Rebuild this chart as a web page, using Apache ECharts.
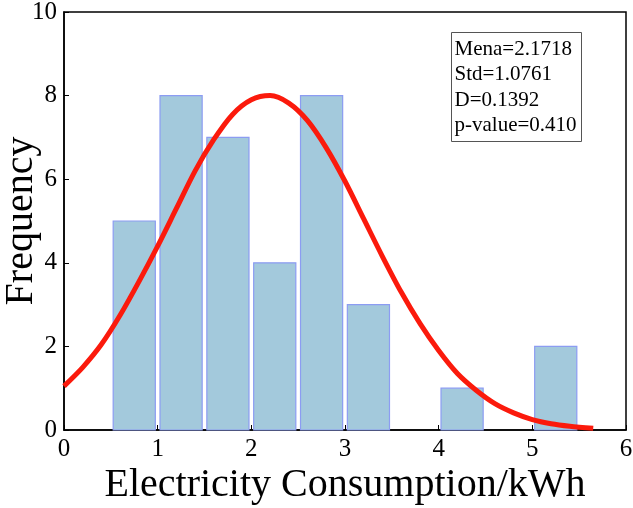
<!DOCTYPE html>
<html>
<head>
<meta charset="utf-8">
<script src="https://cdn.jsdelivr.net/npm/echarts@6/dist/echarts.min.js"></script>
<style>html,body{margin:0;padding:0;background:#fff}#main{width:633px;height:508px}</style>
</head>
<body>
<div id="main"></div>
<script>
// histogram bins (centres) and counts
var binCenters = [0.75, 1.25, 1.75, 2.25, 2.75, 3.25, 3.75, 4.25, 4.75, 5.25];
var counts = [5, 8, 7, 4, 8, 3, 0, 1, 0, 2];
// fitted curve
var curveX = [0, 0.2, 0.4, 0.6, 0.8, 1.0, 1.2, 1.4, 1.6, 1.8, 2.0, 2.2, 2.4, 2.6, 2.8, 3.0, 3.2, 3.4, 3.6, 3.8, 4.0, 4.2, 4.4, 4.6, 4.8, 5.0, 5.2, 5.4, 5.65];
var curveY = [1.05, 1.5, 2.05, 2.75, 3.55, 4.4, 5.3, 6.2, 6.95, 7.55, 7.9, 8.0, 7.82, 7.4, 6.75, 5.95, 5.05, 4.15, 3.3, 2.55, 1.9, 1.35, 0.95, 0.63, 0.41, 0.25, 0.15, 0.09, 0.04];
var statsText = ['Mena=2.1718', 'Std=1.0761', 'D=0.1392', 'p-value=0.410'];

var barData = binCenters.map(function (c, i) { return [c, counts[i]]; });
var lineData = curveX.map(function (x, i) { return [x, curveY[i]]; });

var myChart = echarts.init(document.getElementById('main'));
var font = 'Liberation Serif';
var option = {
	animation: false,
	grid: {
		left: 64,
		right: 7,
		top: 12,
		bottom: 78,
		outerBoundsMode: 'none',
		containLabel: false,
		show: true,
		borderColor: '#000',
		borderWidth: 1.5
	},
	xAxis: {
		type: 'value',
		min: 0,
		max: 6,
		interval: 1,
		name: 'Electricity Consumption/kWh',
		nameLocation: 'middle',
		nameGap: 35,
		nameMoveOverlap: false,
		nameTextStyle: { fontFamily: font, fontSize: 40, color: '#000' },
		axisLine: { lineStyle: { color: '#000', width: 1.5 } },
		axisTick: { inside: true, length: 5, lineStyle: { color: '#000' } },
		axisLabel: { fontFamily: font, fontSize: 25, color: '#000', margin: 7 },
		splitLine: { show: false }
	},
	yAxis: {
		type: 'value',
		min: 0,
		max: 10,
		interval: 2,
		name: 'Frequency',
		nameLocation: 'middle',
		nameGap: 23,
		nameMoveOverlap: false,
		nameTextStyle: { fontFamily: font, fontSize: 40, color: '#000' },
		axisLine: { show: true, lineStyle: { color: '#000', width: 1.5 } },
		axisTick: { show: true, inside: true, length: 5, lineStyle: { color: '#000' } },
		axisLabel: { fontFamily: font, fontSize: 25, color: '#000', margin: 7 },
		splitLine: { show: false }
	},
	series: [{
		type: 'custom',
		data: barData,
		renderItem: function (params, api) {
			var c = api.value(0), v = api.value(1);
			if (!v) return;
			var p0 = api.coord([c - 0.225, v]);
			var p1 = api.coord([c + 0.225, 0]);
			return {
				type: 'rect',
				shape: { x: p0[0], y: p0[1], width: p1[0] - p0[0], height: p1[1] - p0[1] },
				style: { fill: '#a3c9dc', stroke: '#8c9cf2', lineWidth: 1.2 }
			};
		},
		z: 2
	}, {
		type: 'line',
		data: lineData,
		smooth: 0.3,
		symbol: 'none',
		lineStyle: { color: '#fb1a0c', width: 5 },
		z: 3
	}],
	graphic: [{
		type: 'group',
		left: 451,
		top: 32,
		children: [{
			type: 'rect',
			shape: { x: 0, y: 0, width: 130, height: 109 },
			style: { fill: '#fff', stroke: '#555', lineWidth: 1 }
		}, {
			type: 'text',
			x: 3,
			y: 4,
			style: {
				text: statsText.join('\n'),
				font: '21px "Liberation Serif"',
				lineHeight: 25.5,
				fill: '#000'
			}
		}]
	}]
};
myChart.setOption(option);
</script>
</body>
</html>
